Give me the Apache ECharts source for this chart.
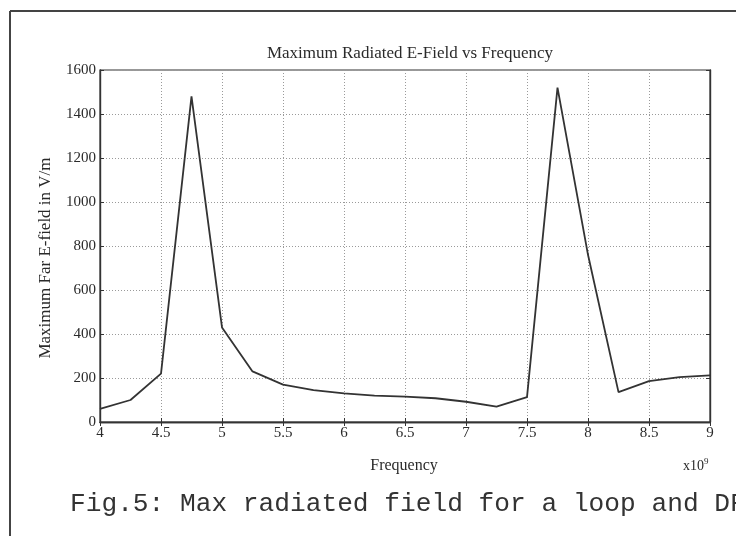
<!DOCTYPE html>
<html>
<head>
<meta charset="utf-8">
<script src="https://cdn.jsdelivr.net/npm/echarts@6/dist/echarts.min.js"></script>
<style>
html,body{margin:0;padding:0;background:#fff;}
#chart{width:736px;height:536px;}
</style>
</head>
<body>
<div id="chart"></div>
<script>
// Frequency (x 10^9 Hz)
const frequency = [4.0, 4.25, 4.5, 4.75, 5.0, 5.25, 5.5, 5.75, 6.0, 6.25, 6.5, 6.75, 7.0, 7.25, 7.5, 7.75, 8.0, 8.25, 8.5, 8.75, 9.0];
// Maximum far E-field (V/m)
const efield = [60, 100, 220, 1480, 430, 230, 170, 145, 130, 120, 115, 108, 92, 70, 113, 1520, 760, 136, 186, 204, 212];
const xTicks = ['4', '4.5', '5', '5.5', '6', '6.5', '7', '7.5', '8', '8.5', '9'];
const yTicks = ['0', '200', '400', '600', '800', '1000', '1200', '1400', '1600'];

const titleText = 'Maximum Radiated E-Field vs Frequency';
const xName = 'Frequency';
const yName = 'Maximum Far E-field in V/m';
const caption = 'Fig.5: Max radiated field for a loop and DF';

const serif = 'Liberation Serif';
const ink = '#2a2a2a';

const chart = echarts.init(document.getElementById('chart'), null, {renderer: 'canvas'});

function fmtX(v) {
  const s = String(Math.round(v * 10) / 10);
  return xTicks.indexOf(s) >= 0 ? s : '';
}
function fmtY(v) {
  const s = String(Math.round(v));
  return yTicks.indexOf(s) >= 0 ? s : '';
}

const gridLine = {show: true, lineStyle: {color: '#9a9a9a', type: [1, 2], width: 1}};

chart.setOption({
  backgroundColor: '#ffffff',
  animation: false,
  title: {
    text: titleText,
    left: 405, top: 40, textAlign: 'center',
    textStyle: {fontFamily: serif, fontSize: 17, fontWeight: 'normal', color: ink}
  },
  grid: {left: 100, right: 26, top: 70, bottom: 114, show: true, borderColor: '#333', borderWidth: 1.2, backgroundColor: 'transparent'},
  xAxis: [{
    type: 'value', min: 4, max: 9, interval: 0.5, position: 'bottom',
    axisLine: {show: true, onZero: false, lineStyle: {color: '#333', width: 1.4}},
    axisTick: {show: true, inside: true, length: 4, lineStyle: {color: '#333'}},
    axisLabel: {formatter: fmtX, fontFamily: serif, fontSize: 15, color: ink, margin: 4},
    splitLine: gridLine
  }, {
    type: 'value', min: 4, max: 9, interval: 0.5, position: 'top',
    axisLine: {show: true, lineStyle: {color: '#333', width: 1.4}},
    axisTick: {show: true, inside: true, length: 4, lineStyle: {color: '#333'}},
    axisLabel: {show: false}, splitLine: {show: false}
  }],
  yAxis: [{
    type: 'value', min: 0, max: 1600, interval: 200, position: 'left',
    axisLine: {show: true, onZero: false, lineStyle: {color: '#333', width: 1.4}},
    axisTick: {show: true, inside: true, length: 4, lineStyle: {color: '#333'}},
    axisLabel: {formatter: fmtY, fontFamily: serif, fontSize: 15, color: ink, margin: 4},
    splitLine: gridLine
  }, {
    type: 'value', min: 0, max: 1600, interval: 200, position: 'right',
    axisLine: {show: true, lineStyle: {color: '#333', width: 1.4}},
    axisTick: {show: true, inside: true, length: 4, lineStyle: {color: '#333'}},
    axisLabel: {show: false}, splitLine: {show: false}
  }],
  series: [{
    type: 'line',
    data: frequency.map((f, i) => [f, efield[i]]),
    symbol: 'none',
    lineStyle: {color: '#333', width: 1.8},
    xAxisIndex: 0, yAxisIndex: 0
  }],
  graphic: [
    {type: 'line', shape: {x1: 10, y1: 11, x2: 736, y2: 11}, style: {stroke: '#444', lineWidth: 2}},
    {type: 'line', shape: {x1: 10, y1: 11, x2: 10, y2: 536}, style: {stroke: '#444', lineWidth: 2}},
    {type: 'text', x: 404, y: 466, style: {text: xName, fontFamily: serif, fontSize: 16, fill: ink, textAlign: 'center', textVerticalAlign: 'middle'}},
    {type: 'text', x: 683, y: 465, style: {
      text: '{a|x10}{b|9}', textVerticalAlign: 'middle',
      rich: {a: {fontFamily: serif, fontSize: 14, fill: ink, color: ink, verticalAlign: 'bottom'},
             b: {fontFamily: serif, fontSize: 9, fill: ink, color: ink, verticalAlign: 'top', padding: [0, 0, 7, 0]}}
    }},
    {type: 'text', x: 46, y: 258, rotation: Math.PI / 2, style: {text: yName, fontFamily: serif, fontSize: 17, fill: ink, textAlign: 'center', textVerticalAlign: 'middle'}},
    {type: 'text', x: 70, y: 504, style: {text: caption, fontFamily: 'Liberation Mono', fontSize: 26.2, fill: '#333', textVerticalAlign: 'middle'}}
  ]
});
</script>
</body>
</html>
